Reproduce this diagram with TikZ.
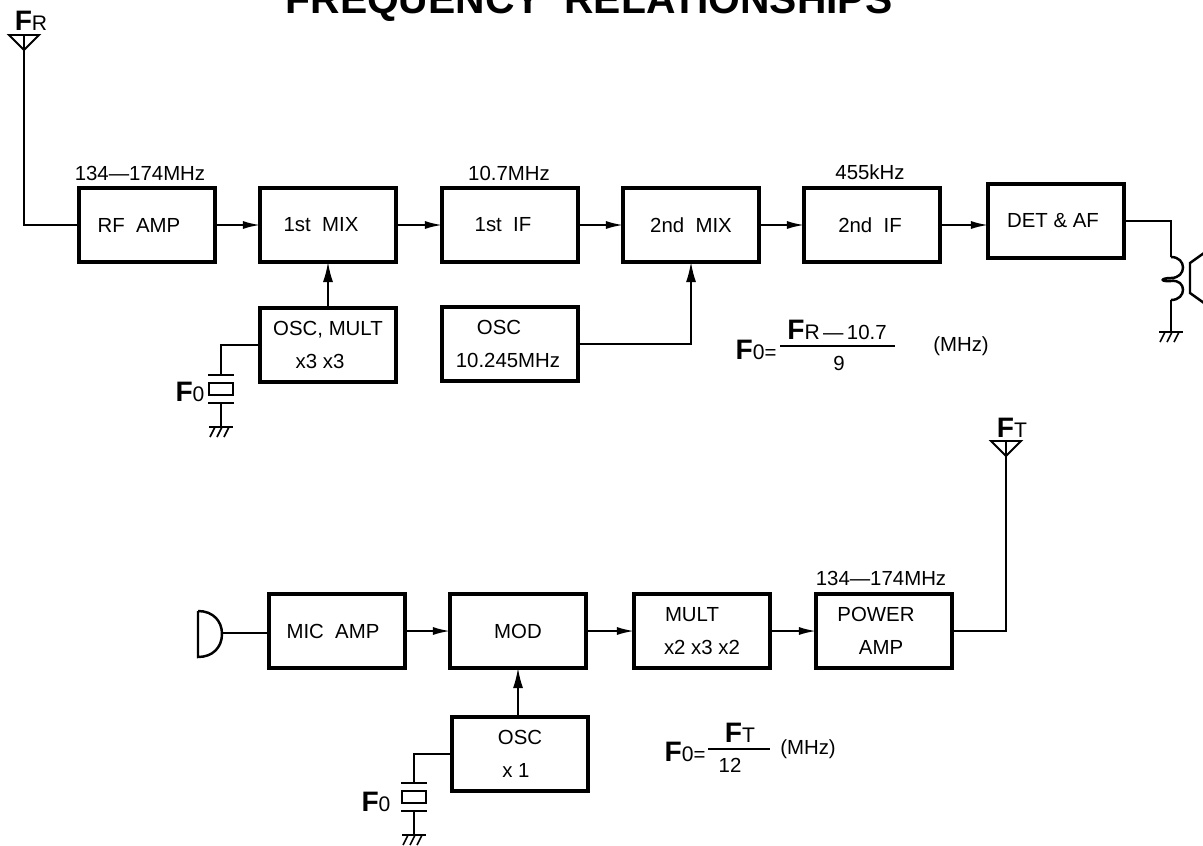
\documentclass[tikz,border=0pt]{standalone}
\usepackage{fontspec}
\setmainfont{Liberation Sans}
\usetikzlibrary{arrows.meta}

\newcommand{\ffreq}[1]{{\fontsize{8}{9}\selectfont\bfseries F}{\fontsize{6}{7}\selectfont #1}}

\begin{document}
\begin{tikzpicture}[
    x=0.01cm, y=-0.01cm,
    font=\fontsize{5.8}{9.4}\selectfont,
    blockbox/.style={draw, line width=1.3pt, minimum width=1.36cm, minimum height=0.74cm, inner sep=0pt, outer sep=0pt, align=center},
    freqlabel/.style={inner sep=0pt},
    fraclabel/.style={inner sep=0pt},
    titlelabel/.style={inner sep=0pt, anchor=base, font=\fontsize{11.6}{13}\selectfont\bfseries},
    wire/.style={line width=0.45pt},
    sigarrow/.style={line width=0.5pt, -{Latex[length=0.17cm, width=0.08cm]}},
    thinarrow/.style={line width=0.5pt, -{Latex[length=0.2cm, width=0.1cm]}},
    antenna/.pic={
        \draw[line width=0.55pt] (-15,-15) -- (15,-15) -- (0,0) -- cycle;
        \draw[wire] (0,-15) -- (0,0);
    },
    earth/.pic={
        \draw[line width=0.8pt] (-12,0) -- (12,0);
        \foreach \h in {-6, 1, 8} {
            \draw[wire] (\h,0) -- (\h-5,10);
        }
    },
    crystal/.pic={
        \draw[line width=0.7pt] (-13,0) -- (13,0);
        \draw[line width=0.7pt] (-12,8) rectangle (12,20);
        \draw[line width=0.7pt] (-13,28) -- (13,28);
    },
]
    \useasboundingbox (0, 0) rectangle (1203, 845);

    \node[titlelabel] (title) at (589, 13) {FREQUENCY\ \ RELATIONSHIPS};

    % receiver chain
    \node[blockbox] (rfamp) at (147, 225) {RF\ \ AMP\hspace*{.16cm}};
    \node[blockbox] (mix1) at (328, 225) {1st\ \ MIX\hspace*{.14cm}};
    \node[blockbox] (if1) at (510, 225) {1st\ \ IF\hspace*{.14cm}};
    \node[blockbox] (mix2) at (691, 225) {2nd\ \ MIX};
    \node[blockbox] (if2) at (872, 225) {2nd\ \ IF\hspace*{.04cm}};
    \node[blockbox] (detaf) at (1056, 221) {DET \& AF\hspace*{.06cm}};
    \node[blockbox] (oscmult) at (328, 345) {OSC, MULT\\x3 x3\hspace*{.16cm}};
    \node[blockbox] (osc2) at (510, 344) {OSC\hspace*{.22cm}\\10.245MHz\hspace*{.04cm}};

    \node[freqlabel] (frf) at (140, 173) {134---174MHz};
    \node[freqlabel] (fif1) at (509, 173) {10.7MHz};
    \node[freqlabel] (fif2) at (870, 172) {455kHz};

    % transmitter chain
    \node[blockbox] (micamp) at (337, 631) {MIC\ \ AMP\hspace*{.08cm}};
    \node[blockbox] (mod) at (518, 631) {MOD};
    \node[blockbox] (mult) at (702, 631) {MULT\hspace*{.2cm}\\x2 x3 x2};
    \node[blockbox] (poweramp) at (884, 631) {POWER\hspace*{.16cm}\\AMP\hspace*{.06cm}};
    \node[blockbox] (osc1) at (520, 754) {OSC\\x 1\hspace*{.08cm}};

    \node[freqlabel] (fpa) at (881, 578) {134---174MHz};

    % symbols
    \coordinate (antr) at (24, 50);
    \coordinate (antt) at (1006, 456);
    \coordinate (xtalup) at (221, 375);
    \coordinate (xtaldn) at (221, 403);
    \coordinate (gndup) at (221, 427);
    \coordinate (xtbup) at (414, 783);
    \coordinate (xtbdn) at (414, 811);
    \coordinate (gndtx) at (414, 835);
    \coordinate (coiltop) at (1171, 257);
    \coordinate (coilbot) at (1171, 300);
    \coordinate (gndsp) at (1171, 332);
    \coordinate (micout) at (222, 633);

    \pic at (antr) {antenna};
    \pic at (antt) {antenna};
    \pic at (xtalup) {crystal};
    \pic at (xtbup) {crystal};
    \pic at (gndup) {earth};
    \pic at (gndtx) {earth};
    \pic at (gndsp) {earth};

    \node[inner sep=0pt] (lblfr) at (31, 21) {\ffreq{R}};
    \node[inner sep=0pt] (lblft) at (1012, 428) {\ffreq{T}};
    \node[inner sep=0pt] (lblxa) at (190, 392) {\ffreq{0}};
    \node[inner sep=0pt] (lblxb) at (376, 802) {\ffreq{0}};

    % microphone and speaker
    \draw[line width=0.7pt] (198, 611) -- (198, 657) .. controls (213, 657) and (222, 647) .. (222, 634) .. controls (222, 621) and (213, 611) .. (198, 611);
    \draw[line width=0.7pt] (1171, 257) .. controls (1187, 257) and (1187, 278) .. (1171, 278) .. controls (1160, 278) and (1160, 282) .. (1171, 281) .. controls (1187, 279) and (1187, 300) .. (1171, 300);
    \draw[line width=0.7pt] (1204, 253) -- (1190, 263) -- (1190, 293) -- (1204, 303);

    % connectors
    \draw[wire] (antr) |- (rfamp);
    \foreach \a/\b in {rfamp/mix1, mix1/if1, if1/mix2, mix2/if2, micamp/mod, mod/mult, mult/poweramp} {
        \draw[sigarrow] (\a) -- (\b);
    }
    \draw[sigarrow] (if2) -- (if2 -| detaf.west);
    \draw[thinarrow] (oscmult) -- (mix1);
    \draw[thinarrow] (mod |- osc1.north) -- (mod);
    \draw[thinarrow] (osc2) -| (mix2);
    \draw[wire] (oscmult) -| (xtalup);
    \draw[wire] (xtaldn) -- (gndup);
    \draw[wire] (osc1) -| (xtbup);
    \draw[wire] (xtbdn) -- (gndtx);
    \draw[wire] (detaf) -| (coiltop);
    \draw[wire] (coilbot) -- (gndsp);
    \draw[wire] (poweramp) -| (antt);
    \draw[wire] (micout) -- (micout -| micamp.west);

    % formulas
    \node[inner sep=0pt, anchor=west] (fo1) at (735, 350) {\ffreq{0}=};
    \node[fraclabel] (num1) at (837, 330) {\ffreq{R}\,---\,10.7};
    \node[fraclabel] (den1) at (839, 363) {9};
    \coordinate (bar1a) at (780, 346);
    \coordinate (bar1b) at (895, 346);
    \draw[wire] (bar1a) -- (bar1b);
    \node[fraclabel] (mhz1) at (961, 346) {(MHz)};

    \node[inner sep=0pt, anchor=west] (fo2) at (664, 752) {\ffreq{0}=};
    \node[fraclabel] (num2) at (740, 733) {\ffreq{T}};
    \node[fraclabel] (den2) at (730, 765) {12};
    \coordinate (bar2a) at (708, 749);
    \coordinate (bar2b) at (770, 749);
    \draw[wire] (bar2a) -- (bar2b);
    \node[fraclabel] (mhz2) at (808, 749) {(MHz)};
\end{tikzpicture}
\end{document}
